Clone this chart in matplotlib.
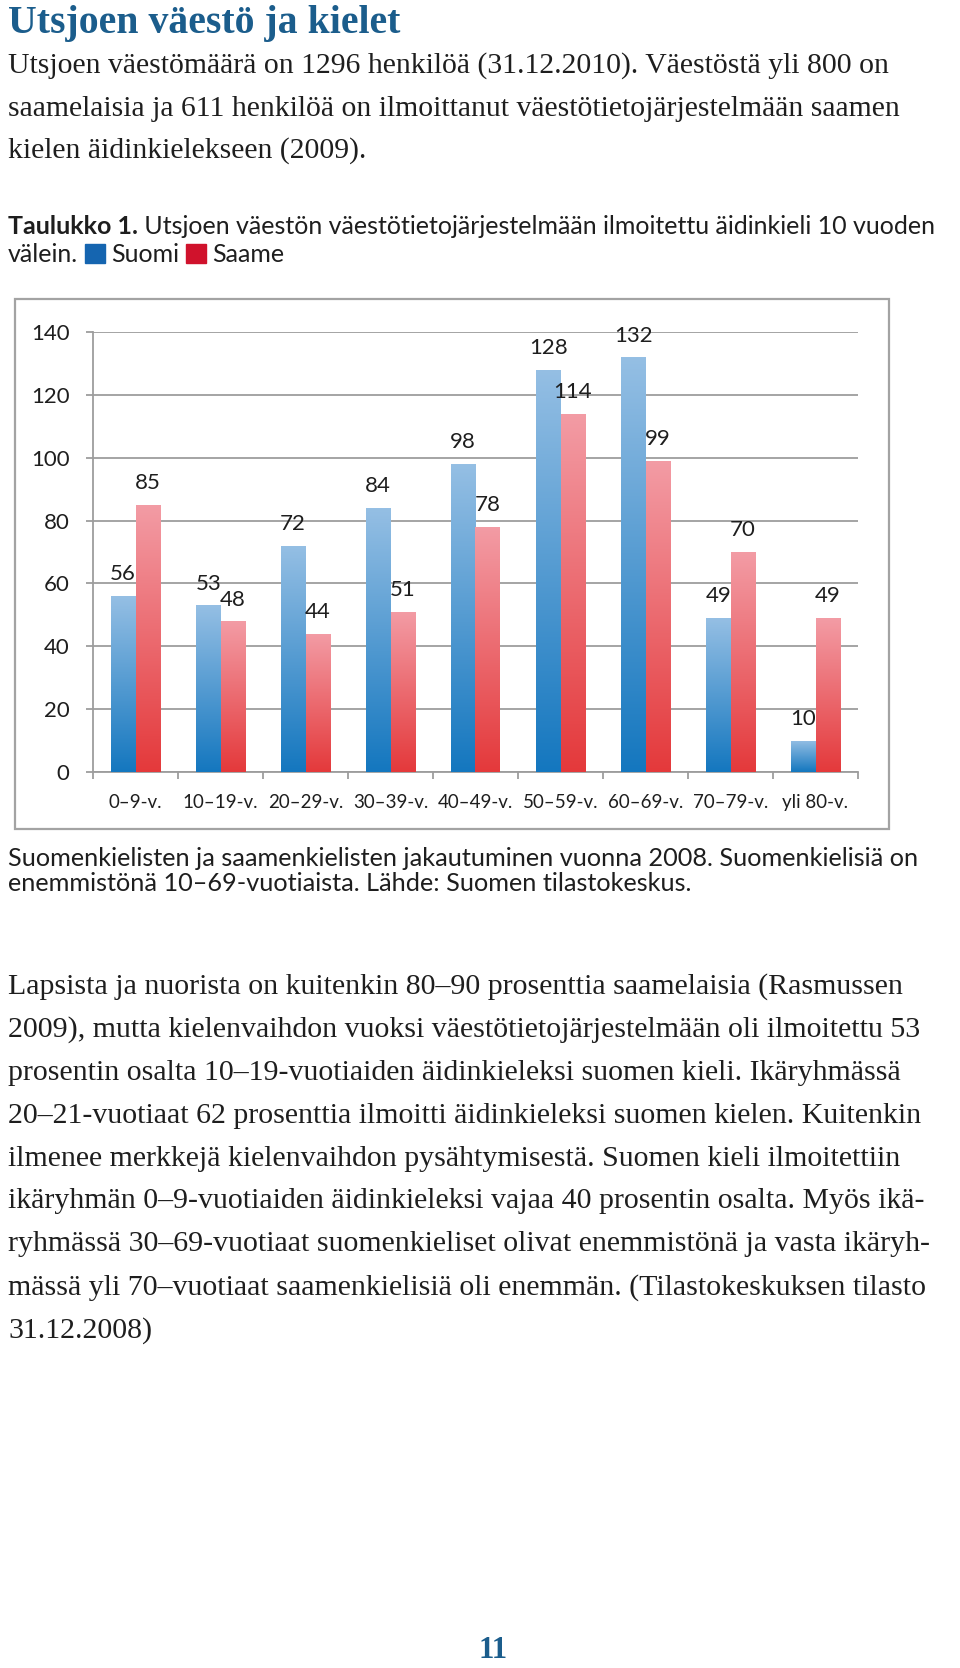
import numpy as np
import matplotlib
matplotlib.use("Agg")
import matplotlib.pyplot as plt
from matplotlib.colors import LinearSegmentedColormap
from matplotlib.patches import Rectangle

# data
categories = ['0–9-v.', '10–19-v.', '20–29-v.', '30–39-v.', '40–49-v.',
              '50–59-v.', '60–69-v.', '70–79-v.', 'yli 80-v.']
suomi = [56, 53, 72, 84, 98, 128, 132, 49, 10]
saame = [85, 48, 44, 51, 78, 114, 99, 70, 49]
yticks = [0, 20, 40, 60, 80, 100, 120, 140]

title = "Utsjoen väestö ja kielet"
intro = ["Utsjoen väestömäärä on 1296 henkilöä (31.12.2010). Väestöstä yli 800 on",
         "saamelaisia ja 611 henkilöä on ilmoittanut väestötietojärjestelmään saamen",
         "kielen äidinkielekseen (2009)."]
table_bold = "Taulukko 1."
table_text = " Utsjoen väestön väestötietojärjestelmään ilmoitettu äidinkieli 10 vuoden"
table_line2 = "välein."
legend_names = ["Suomi", "Saame"]
caption = ["Suomenkielisten ja saamenkielisten jakautuminen vuonna 2008. Suomenkielisiä on",
           "enemmistönä 10–69-vuotiaista. Lähde: Suomen tilastokeskus."]
paragraph = [
    "Lapsista ja nuorista on kuitenkin 80–90 prosenttia saamelaisia (Rasmussen",
    "2009), mutta kielenvaihdon vuoksi väestötietojärjestelmään oli ilmoitettu 53",
    "prosentin osalta 10–19-vuotiaiden äidinkieleksi suomen kieli. Ikäryhmässä",
    "20–21-vuotiaat 62 prosenttia ilmoitti äidinkieleksi suomen kielen. Kuitenkin",
    "ilmenee merkkejä kielenvaihdon pysähtymisestä. Suomen kieli ilmoitettiin",
    "ikäryhmän 0–9-vuotiaiden äidinkieleksi vajaa 40 prosentin osalta. Myös ikä-",
    "ryhmässä 30–69-vuotiaat suomenkieliset olivat enemmistönä ja vasta ikäryh-",
    "mässä yli 70–vuotiaat saamenkielisiä oli enemmän. (Tilastokeskuksen tilasto",
    "31.12.2008)",
]
page_no = "11"

W, H = 960, 1668
def fx(x):
    return x / W
def fy(y):
    return 1 - y / H

SERIF = "Liberation Serif"
SANS = "Lato"
TXT = "#1e1e1e"
BLUE_HEAD = "#1b5d8c"

fig = plt.figure(figsize=(9.6, 16.68), dpi=100)
renderer = fig.canvas.get_renderer()

# header
fig.text(fx(8), fy(23), title, family=SERIF, weight="bold", fontsize=28.6,
         color=BLUE_HEAD, va="center")
for i, line in enumerate(intro):
    fig.text(fx(8), fy(66 + i * 42.5), line, family=SERIF, fontsize=21.4,
             color=TXT, va="center")

t = fig.text(fx(8), fy(226), table_bold, family=SANS, weight="bold",
             fontsize=18, color=TXT, va="center")
x_end = t.get_window_extent(renderer).x1
fig.text(x_end / W, fy(226), table_text, family=SANS, fontsize=18,
         color=TXT, va="center")
t = fig.text(fx(8), fy(255), table_line2, family=SANS, fontsize=18,
             color=TXT, va="center")
x_end = t.get_window_extent(renderer).x1 + 7
for name, col in zip(legend_names, ["#1565b0", "#d0122c"]):
    fig.patches.append(Rectangle((x_end / W, fy(263)), 20 / W, 19 / H,
                                 transform=fig.transFigure, color=col))
    t = fig.text((x_end + 26) / W, fy(255), name, family=SANS, fontsize=18,
                 color=TXT, va="center")
    x_end = t.get_window_extent(renderer).x1 + 7

# chart frame
fig.patches.append(Rectangle((fx(15), fy(829)), 874 / W, 530 / H,
                             transform=fig.transFigure, fill=False,
                             edgecolor="#a3a3a3", lw=1.6))

# chart
ax = fig.add_axes([fx(93), fy(772), 765 / W, 440 / H])
x = np.arange(len(categories))
bw = 0.29
blue_cmap = LinearSegmentedColormap.from_list("b", ["#95bfe4", "#1477bf"])
red_cmap = LinearSegmentedColormap.from_list("r", ["#f39ca5", "#e4393b"])
grad = np.linspace(0, 1, 256).reshape(-1, 1)

for vals, offs, cmap in [(suomi, -bw / 2, blue_cmap), (saame, bw / 2, red_cmap)]:
    bars = ax.bar(x + offs, vals, width=bw, color="none", edgecolor="none", zorder=3)
    for b, v in zip(bars, vals):
        im = ax.imshow(grad, cmap=cmap, aspect="auto", origin="upper",
                       extent=[b.get_x(), b.get_x() + bw, 0, v], zorder=3)
        im.set_clip_path(b)
        ax.annotate(str(v), (b.get_x() + bw / 2, v), xytext=(0, 15.5),
                    textcoords="offset points", ha="center", va="center",
                    family=SANS, fontsize=16, color=TXT, zorder=4)

ax.set_xlim(-0.5, len(categories) - 0.5)
ax.set_ylim(0, 140)
ax.set_yticks(yticks)
ax.grid(axis="y", color="#9d9d9d", lw=1.3)
ax.set_axisbelow(True)
ax.set_xticks(np.arange(-0.5, len(categories)), labels=[])
ax.set_xticks(x, labels=categories, minor=True)
ax.tick_params(axis="x", which="major", length=5, color="#9d9d9d", width=1.3)
ax.tick_params(axis="x", which="minor", length=0, pad=16, labelsize=13.5,
               labelcolor=TXT)
ax.tick_params(axis="y", length=5, color="#9d9d9d", width=1.3, pad=12,
               labelsize=16, labelcolor=TXT)
for lbl in ax.get_xticklabels(minor=True) + ax.get_yticklabels():
    lbl.set_family(SANS)
for s in ["top", "right"]:
    ax.spines[s].set_visible(False)
for s in ["left", "bottom"]:
    ax.spines[s].set_color("#9d9d9d")
    ax.spines[s].set_linewidth(1.3)

# caption and paragraph
for i, line in enumerate(caption):
    fig.text(fx(8), fy(858 + i * 25), line, family=SANS, fontsize=18.2,
             color=TXT, va="center")
for i, line in enumerate(paragraph):
    fig.text(fx(8), fy(987 + i * 42.9), line, family=SERIF, fontsize=21.5,
             color=TXT, va="center")

fig.text(fx(493), fy(1650), page_no, family=SERIF, weight="bold", fontsize=22,
         color=BLUE_HEAD, ha="center", va="center")

fig.savefig("out.png", dpi=100)
